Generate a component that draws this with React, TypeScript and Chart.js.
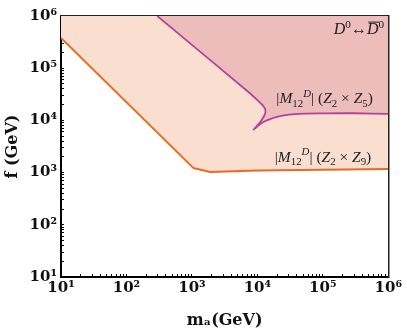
import React, { useEffect, useRef } from "react";
import { Chart, registerables } from "chart.js";

Chart.register(...registerables);

// ---- axis decades & tick labels ----
const xDecades = [10, 100, 1000, 1e4, 1e5, 1e6];
const xTickLabels = ["10¹", "10²", "10³", "10⁴", "10⁵", "10⁶"];
const yDecades = [10, 100, 1000, 1e4, 1e5, 1e6];
const yTickLabels = ["10¹", "10²", "10³", "10⁴", "10⁵", "10⁶"];

// ---- Z2 x Z9 bound (orange) ----
const orangeX = [10, 1050, 1900, 1e4, 1e5, 1e6];
const orangeY = [3.8e5, 1230, 1030, 1100, 1140, 1170];

// ---- Z2 x Z5 bound (purple) ----
const purpleX = [295, 1000, 7300, 10000, 11800, 13000, 13300, 12600, 11000, 8800, 10500, 13000, 16000, 23000, 42000, 1e5, 3e5, 1e6];
const purpleY = [1e6, 2.8e5, 3.5e4, 2.45e4, 2.0e4, 1.7e4, 1.45e4, 1.2e4, 9.2e3, 6.7e3, 8.1e3, 9.6e3, 1.07e4, 1.22e4, 1.33e4, 1.36e4, 1.37e4, 1.33e4];

const xTitle = "mₐ(GeV)";
const yTitle = "f (GeV)";

const labelMix = ["D", "0", "↔", "D", "0"];
const labelZ5 = ["Z", "5"];
const labelZ9 = ["Z", "9"];

function logTicks(decades: number[]): number[] {
  const out: number[] = [];
  for (let i = 0; i < decades.length - 1; i++) {
    for (let k = 1; k <= 9; k++) out.push(k * decades[i]);
  }
  out.push(decades[decades.length - 1]);
  return out;
}

type Seg = { t: string; it?: boolean; sub?: boolean; sup?: boolean; over?: boolean };

function drawRich(ctx: CanvasRenderingContext2D, x: number, y: number, segs: Seg[], size: number, align: "left" | "right") {
  const fam = '"Liberation Serif", "DejaVu Serif", serif';
  const fontFor = (s: Seg) => {
    const sz = s.sub || s.sup ? size * 0.7 : size;
    return `${s.it ? "italic " : ""}${sz}px ${fam}`;
  };
  let total = 0;
  for (const s of segs) {
    ctx.font = fontFor(s);
    total += ctx.measureText(s.t).width;
  }
  let cx = align === "right" ? x - total : x;
  ctx.textAlign = "left";
  ctx.textBaseline = "alphabetic";
  for (const s of segs) {
    ctx.font = fontFor(s);
    const w = ctx.measureText(s.t).width;
    const dy = s.sub ? size * 0.22 : s.sup ? -size * 0.4 : 0;
    ctx.fillText(s.t, cx, y + dy);
    if (s.over) {
      ctx.save();
      ctx.lineWidth = 1;
      ctx.strokeStyle = ctx.fillStyle as string;
      ctx.beginPath();
      ctx.moveTo(cx + 1.5, y - size * 0.74);
      ctx.lineTo(cx + w + 1, y - size * 0.74);
      ctx.stroke();
      ctx.restore();
    }
    cx += w;
  }
}

function mLabel(z: string[]): Seg[] {
  return [
    { t: "|" },
    { t: "M", it: true },
    { t: "12", sub: true },
    { t: "D", it: true, sup: true },
    { t: "| (" },
    { t: "Z", it: true },
    { t: "2", sub: true },
    { t: " × " },
    { t: z[0], it: true },
    { t: z[1], sub: true },
    { t: ")" },
  ];
}

const annotationPlugin = {
  id: "textLabels",
  afterDraw(chart: any) {
    const { ctx } = chart;
    const xs = chart.scales.x;
    const ys = chart.scales.y;
    ctx.save();
    ctx.fillStyle = "#222";
    drawRich(
      ctx,
      xs.getPixelForValue(Math.pow(10, 5.935)),
      ys.getPixelForValue(Math.pow(10, 5.656)),
      [
        { t: labelMix[0], it: true },
        { t: labelMix[1], sup: true },
        { t: labelMix[2] },
        { t: labelMix[3], it: true, over: true },
        { t: labelMix[4], sup: true },
      ],
      16,
      "right"
    );
    drawRich(ctx, xs.getPixelForValue(Math.pow(10, 4.29)), ys.getPixelForValue(Math.pow(10, 4.33)), mLabel(labelZ5), 15.5, "left");
    drawRich(ctx, xs.getPixelForValue(Math.pow(10, 4.265)), ys.getPixelForValue(Math.pow(10, 3.21)), mLabel(labelZ9), 15.5, "left");
    ctx.restore();
  },
};

export default function App() {
  const ref = useRef<HTMLCanvasElement | null>(null);
  useEffect(() => {
    if (!ref.current) return;
    const xTickVals = logTicks(xDecades);
    const yTickVals = logTicks(yDecades);
    const tickFont = { family: '"DejaVu Serif", serif', size: 15, weight: "bold" as const };
    const titleFont = { family: '"DejaVu Serif", serif', size: 16, weight: "bold" as const };
    const chart = new Chart(ref.current, {
      type: "scatter",
      data: {
        datasets: [
          {
            label: "Z2xZ5",
            data: purpleX.map((x, i) => ({ x, y: purpleY[i] })),
            showLine: true,
            borderColor: "#B5409E",
            borderWidth: 1.8,
            borderJoinStyle: "round",
            backgroundColor: "#EDBDBC",
            fill: "end",
            pointRadius: 0,
            tension: 0.25,
          },
          {
            label: "Z2xZ9",
            data: orangeX.map((x, i) => ({ x, y: orangeY[i] })),
            showLine: true,
            borderColor: "#EA6A24",
            borderWidth: 2,
            borderJoinStyle: "round",
            backgroundColor: "#FADFD1",
            fill: "end",
            pointRadius: 0,
            tension: 0,
          },
        ],
      },
      options: {
        animation: false,
        responsive: false,
        devicePixelRatio: 1,
        layout: { padding: 0 },
        plugins: { legend: { display: false }, tooltip: { enabled: false } },
        scales: {
          x: {
            type: "logarithmic",
            position: "bottom",
            min: 10,
            max: 1e6,
            afterBuildTicks: (s: any) => {
              s.ticks = xTickVals.map((v) => ({ value: v }));
            },
            afterFit: (s: any) => {
              s.height = 54;
            },
            ticks: {
              autoSkip: false,
              maxRotation: 0,
              minRotation: 0,
              padding: 5,
              color: "#111",
              font: tickFont,
              callback: (v: any) => {
                const i = xDecades.indexOf(Number(v));
                return i >= 0 ? xTickLabels[i] : "";
              },
            },
            grid: { drawOnChartArea: false, drawTicks: true, tickLength: -3, tickColor: "#000", tickWidth: 1 },
            border: { display: true, color: "#000", width: 2 },
            title: { display: true, text: xTitle, color: "#111", font: titleFont, padding: { top: 0, bottom: 1 } },
          },
          y: {
            type: "logarithmic",
            position: "left",
            min: 10,
            max: 1e6,
            afterBuildTicks: (s: any) => {
              s.ticks = yTickVals.map((v) => ({ value: v }));
            },
            afterFit: (s: any) => {
              s.width = 61;
            },
            ticks: {
              autoSkip: false,
              padding: 7,
              color: "#111",
              font: tickFont,
              callback: (v: any) => {
                const i = yDecades.indexOf(Number(v));
                return i >= 0 ? yTickLabels[i] : "";
              },
            },
            grid: { drawOnChartArea: false, drawTicks: true, tickLength: -3, tickColor: "#000", tickWidth: 1 },
            border: { display: true, color: "#000", width: 2 },
            title: { display: true, text: yTitle, color: "#111", font: titleFont, padding: { top: 3, bottom: 0 } },
          },
          xTop: {
            type: "logarithmic",
            position: "top",
            display: true,
            min: 10,
            max: 1e6,
            afterFit: (s: any) => {
              s.height = 11;
            },
            ticks: { display: false },
            grid: { display: false, drawTicks: false },
            border: { display: true, color: "#222", width: 1.5 },
          },
          yRight: {
            type: "logarithmic",
            position: "right",
            display: true,
            min: 10,
            max: 1e6,
            afterFit: (s: any) => {
              s.width = 16;
            },
            ticks: { display: false },
            grid: { display: false, drawTicks: false },
            border: { display: true, color: "#222", width: 1.5 },
          },
        },
      } as any,
      plugins: [annotationPlugin],
    });
    return () => chart.destroy();
  }, []);
  return (
    <div style={{ position: "absolute", left: 0, top: 0, width: 407, height: 331, background: "#fff" }}>
      <canvas ref={ref} width={407} height={331} />
    </div>
  );
}
